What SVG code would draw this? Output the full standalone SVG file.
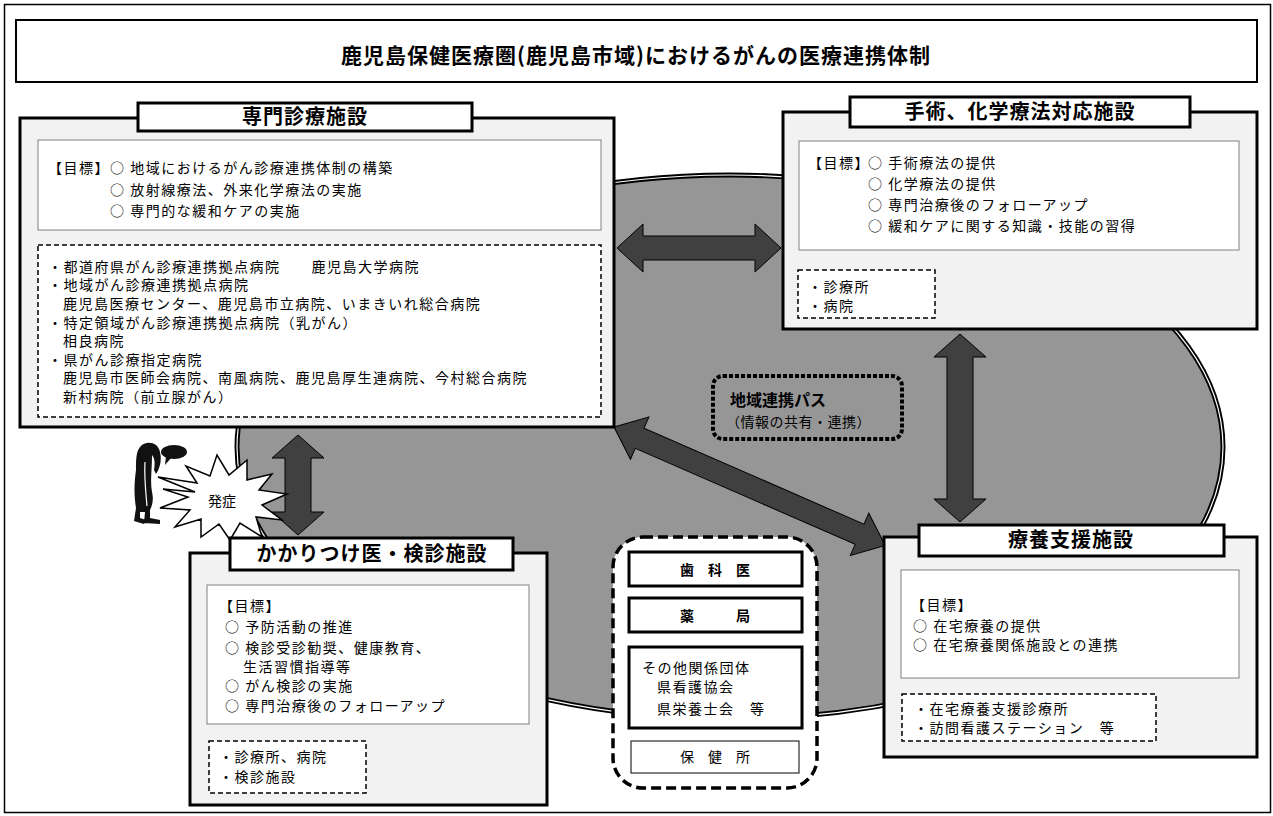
<svg xmlns="http://www.w3.org/2000/svg" width="1273" height="816" viewBox="0 0 1273 816">
  <defs>
    <style>
      text { font-family: "Noto Sans CJK JP", "Noto Sans CJK SC", sans-serif; fill: #000; }
      .t { font-size: 14px; letter-spacing: 1.5px; }
      .hd { font-size: 20px; font-weight: 700; letter-spacing: 1px; }
      .ttl { font-size: 21px; font-weight: 700; letter-spacing: 1px; }
      .b { font-weight: 700; }
      .pl { font-size: 16px; font-weight: 700; }
      .panel { fill: #f2f2f2; stroke: #000; stroke-width: 3; }
      .label { fill: #fff; stroke: #000; stroke-width: 3; }
      .goal { fill: #fff; stroke: #808080; stroke-width: 1; }
      .list { fill: #fff; stroke: #000; stroke-width: 1.5; stroke-dasharray: 5 3; }
      .arrow { fill: #404040; stroke: #000; stroke-width: 1; stroke-linejoin: miter; }
      .org { fill: #fff; stroke: #000; stroke-width: 3; }
    </style>
  </defs>

  <rect width="1273" height="816" fill="#fff"/>
  <!-- outer frame -->
  <rect x="4.5" y="4.5" width="1266" height="808" fill="none" stroke="#000" stroke-width="1.5"/>

  <!-- title -->
  <g id="title">
    <rect x="16" y="20" width="1241" height="62" fill="#fff" stroke="#000" stroke-width="2"/>
    <text class="ttl" x="636" y="63" text-anchor="middle">鹿児島保健医療圏(鹿児島市域)におけるがんの医療連携体制</text>
  </g>

  <!-- regional area -->
  <g id="region">
    <ellipse cx="730" cy="447" rx="493" ry="272" fill="#969696" stroke="#000" stroke-width="5"/>
    <ellipse cx="730" cy="447" rx="493" ry="272" fill="none" stroke="#fff" stroke-width="1.2"/>
  </g>

  <!-- connectors -->
  <g id="connectors">
    <polygon class="arrow" points="617,248 643,224 643,236 755,236 755,224 781,248 755,272 755,260 643,260 643,272"/>
    <polygon class="arrow" points="960,334 986,357 973,357 973,499 986,499 960,522 934,499 947,499 947,357 934,357"/>
    <polygon class="arrow" points="298,435 324,458 311,458 311,512 324,512 298,535 272,512 285,512 285,458 272,458"/>
    <g transform="translate(614,427) rotate(23.6)">
      <polygon class="arrow" points="0,0 28,-23 28,-11 268,-11 268,-23 296,0 268,23 268,11 28,11 28,23"/>
    </g>
  </g>

  <!-- regional path label -->
  <g id="path-label">
    <rect x="713" y="376" width="189" height="63" rx="10" fill="none" stroke="#000" stroke-width="4" stroke-dasharray="4 2"/>
    <text class="pl" x="730" y="406">地域連携パス</text>
    <text class="t" x="726" y="427" style="letter-spacing:0.5px">（情報の共有・連携）</text>
  </g>

  <!-- specialist care -->
  <g id="specialist">
    <rect class="panel" x="20" y="118" width="594" height="309"/>
    <rect class="label" x="138" y="103" width="334" height="28"/>
    <text class="hd" x="305" y="124" text-anchor="middle">専門診療施設</text>
    <rect class="goal" x="38" y="140" width="563" height="90"/>
    <text class="t" x="48" y="173">【目標】</text>
    <text class="t" x="110" y="173">○ 地域におけるがん診療連携体制の構築</text>
    <text class="t" x="110" y="195">○ 放射線療法、外来化学療法の実施</text>
    <text class="t" x="110" y="216">○ 専門的な緩和ケアの実施</text>
    <rect class="list" x="38" y="245" width="563" height="172"/>
    <text class="t" x="48" y="272">・都道府県がん診療連携拠点病院　　鹿児島大学病院</text>
    <text class="t" x="48" y="290">・地域がん診療連携拠点病院</text>
    <text class="t" x="63" y="309">鹿児島医療センター、鹿児島市立病院、いまきいれ総合病院</text>
    <text class="t" x="48" y="328">・特定領域がん診療連携拠点病院（乳がん）</text>
    <text class="t" x="63" y="346">相良病院</text>
    <text class="t" x="48" y="365">・県がん診療指定病院</text>
    <text class="t" x="63" y="383">鹿児島市医師会病院、南風病院、鹿児島厚生連病院、今村総合病院</text>
    <text class="t" x="63" y="402">新村病院（前立腺がん）</text>
  </g>

  <!-- surgery and chemotherapy -->
  <g id="surgery">
    <rect class="panel" x="783" y="112" width="474" height="217"/>
    <rect class="label" x="850" y="97" width="340" height="30"/>
    <text class="hd" x="1020" y="119" text-anchor="middle">手術、化学療法対応施設</text>
    <rect class="goal" x="799" y="141" width="440" height="109"/>
    <text class="t" x="808" y="168">【目標】</text>
    <text class="t" x="868" y="168">○ 手術療法の提供</text>
    <text class="t" x="868" y="189">○ 化学療法の提供</text>
    <text class="t" x="868" y="210">○ 専門治療後のフォローアップ</text>
    <text class="t" x="868" y="231">○ 緩和ケアに関する知識・技能の習得</text>
    <rect class="list" x="798" y="270" width="137" height="48"/>
    <text class="t" x="808" y="292">・診療所</text>
    <text class="t" x="808" y="311">・病院</text>
  </g>

  <!-- onset -->
  <g id="onset">
    <path d="M140,447 C146,440 158,442 160,452 C162,460 160,468 156,474 L154,470 C155,464 155,458 152,455 C152,470 150,482 152,492 C154,500 152,506 150,510 L150,518 L160,520 L160,524 L144,523 L145,512 L140,512 L140,518 L146,520 L144,524 L134,521 L136,508 C134,496 134,484 136,470 C136,460 136,452 140,447 Z" fill="#111"/>
    <path d="M145,462 C144,478 146,494 147,506" fill="none" stroke="#fff" stroke-width="1.2"/>
    <ellipse cx="174" cy="452" rx="13" ry="7" fill="#111"/>
    <path d="M166,456 L165,465 L171,458 Z" fill="#111"/>
    <polygon points="158,477 197,483 186,466 210,476 217,455 229,475 247,460 247,480 272,474 259,490 287,494 262,505 282,520 256,517 262,537 240,523 230,540 219,524 201,537 201,519 175,527 190,510 160,508 188,497 163,489 195,492" fill="#fff" stroke="#000" stroke-width="1.5" stroke-linejoin="miter"/>
    <text class="t" x="222" y="506" text-anchor="middle" style="letter-spacing:0">発症</text>
  </g>

  <!-- primary care and screening -->
  <g id="primary">
    <rect class="panel" x="190" y="553" width="357" height="252"/>
    <rect class="label" x="230" y="538" width="283" height="32"/>
    <text class="hd" x="372" y="561" text-anchor="middle">かかりつけ医・検診施設</text>
    <rect class="goal" x="207" y="585" width="322" height="139"/>
    <text class="t" x="219" y="611">【目標】</text>
    <text class="t" x="225" y="632">○ 予防活動の推進</text>
    <text class="t" x="225" y="653">○ 検診受診勧奨、健康教育、</text>
    <text class="t" x="243" y="672">生活習慣指導等</text>
    <text class="t" x="225" y="691">○ がん検診の実施</text>
    <text class="t" x="225" y="711">○ 専門治療後のフォローアップ</text>
    <rect class="list" x="209" y="741" width="157" height="52"/>
    <text class="t" x="219" y="762">・診療所、病院</text>
    <text class="t" x="219" y="782">・検診施設</text>
  </g>

  <!-- related organizations -->
  <g id="organizations">
    <rect x="613" y="537" width="204" height="251" rx="30" fill="#fff" stroke="#000" stroke-width="3.5" stroke-dasharray="10 5"/>
    <rect class="org" x="629" y="552" width="173" height="34"/>
    <text class="t b" x="715" y="575" text-anchor="middle" style="letter-spacing:0">歯　科　医</text>
    <rect class="org" x="629" y="598" width="173" height="34"/>
    <text class="t b" x="715" y="621" text-anchor="middle" style="letter-spacing:0">薬　　　局</text>
    <rect class="org" x="629" y="647" width="173" height="81"/>
    <text class="t" x="642" y="673">その他関係団体</text>
    <text class="t" x="657" y="692">県看護協会</text>
    <text class="t" x="657" y="714">県栄養士会　等</text>
    <rect x="631" y="741" width="168" height="32" fill="#fff" stroke="#000" stroke-width="1"/>
    <text class="t" x="715" y="762" text-anchor="middle" style="letter-spacing:0">保　健　所</text>
  </g>

  <!-- home care support -->
  <g id="homecare">
    <rect class="panel" x="884" y="537" width="373" height="220"/>
    <rect class="label" x="919" y="525" width="305" height="31"/>
    <text class="hd" x="1071" y="547" text-anchor="middle">療養支援施設</text>
    <rect class="goal" x="901" y="570" width="338" height="108"/>
    <text class="t" x="911" y="610">【目標】</text>
    <text class="t" x="913" y="631">○ 在宅療養の提供</text>
    <text class="t" x="913" y="650">○ 在宅療養関係施設との連携</text>
    <rect class="list" x="902" y="694" width="254" height="47"/>
    <text class="t" x="914" y="714">・在宅療養支援診療所</text>
    <text class="t" x="914" y="733">・訪問看護ステーション　等</text>
  </g>
</svg>
